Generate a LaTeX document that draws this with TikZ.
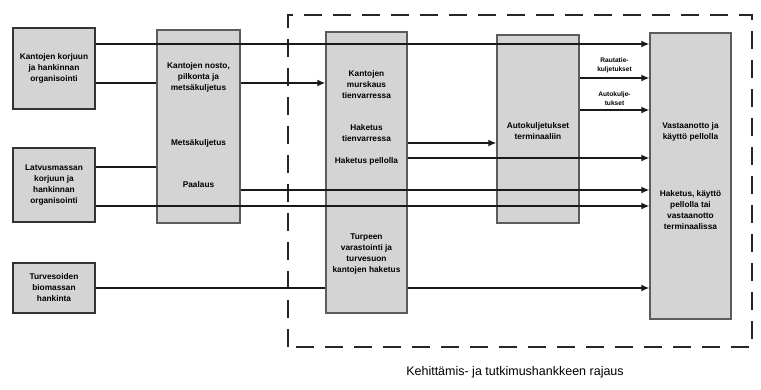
\documentclass[tikz,border=0pt]{standalone}
\usepackage{fontspec}
\setmainfont{Liberation Sans}
\usetikzlibrary{arrows.meta, positioning}
\definecolor{boxgray}{gray}{0.83}
\definecolor{edgegray}{gray}{0.2}
\tikzset{
  orgbox/.style={rectangle, draw=edgegray, line width=1.6pt, fill=boxgray, minimum width=82pt,
    align=center, inner sep=0pt, font=\fontsize{8.3}{11}\selectfont\bfseries},
  colbox/.style={rectangle, draw=edgegray!80, line width=1.2pt, fill=boxgray, minimum width=82pt, inner sep=0pt},
  boxtext/.style={align=center, inner sep=0pt, font=\fontsize{8.3}{11}\selectfont\bfseries},
  linklabel/.style={align=center, inner sep=0pt, black, font=\fontsize{6.6}{9}\selectfont\bfseries},
  link/.style={line width=1.7pt, black!90},
  flow/.style={link, -{Latex[length=8pt,width=7pt]}},
  scopeline/.style={line width=2.4pt, black!85, dash pattern=on 18pt off 11pt},
}

\begin{document}
\begin{tikzpicture}[x=1pt, y=-1pt]
  \useasboundingbox (0,0) rectangle (761,389);

  % project boundary
  \draw[scopeline] (288,347) -- (288,15) -- (752,15) -- (752,347) -- cycle;
  \node[font=\fontsize{12.5}{14}\selectfont] (rajaus) at (515,372) {Kehittämis- ja tutkimushankkeen rajaus};

  % organising boxes on the left
  \node[orgbox, minimum height=81pt] (org1) at (54,68.5) {Kantojen korjuun\\ja hankinnan\\organisointi};
  \node[orgbox, minimum height=74pt] (org2) at (54,185) {Latvusmassan\\korjuun ja\\hankinnan\\organisointi};
  \node[orgbox, minimum height=50pt] (org3) at (54,288) {Turvesoiden\\biomassan\\hankinta};

  % process columns
  \node[colbox, minimum height=193pt, minimum width=83pt] (nosto) at (198.5,126.5) {};
  \node[colbox, minimum height=281pt, minimum width=81pt] (murs) at (366.5,172.5) {};
  \node[colbox, minimum height=188pt, minimum width=82pt] (auto) at (538,129) {};
  \node[colbox, minimum height=286pt, minimum width=81pt] (vast) at (690.5,176) {};

  \node[boxtext] (nostotxt) at (198.5,77) {Kantojen nosto,\\pilkonta ja\\metsäkuljetus};
  \node[boxtext] (metsa) at (198.5,143) {Metsäkuljetus};
  \node[boxtext] (paal) at (198.5,185) {Paalaus};
  \node[boxtext] (murstxt) at (366.5,85) {Kantojen\\murskaus\\tienvarressa};
  \node[boxtext] (hak1) at (366.5,133) {Haketus\\tienvarressa};
  \node[boxtext] (hak2) at (366.5,161) {Haketus pellolla};
  \node[boxtext] (turve) at (366.5,254) {Turpeen\\varastointi ja\\turvesuon\\kantojen haketus};
  \node[boxtext] (autotxt) at (538,131) {Autokuljetukset\\terminaaliin};
  \node[boxtext] (vast1) at (690.5,132) {Vastaanotto ja\\käyttö pellolla};
  \node[boxtext] (vast2) at (690.5,210) {Haketus, käyttö\\pellolla tai\\vastaanotto\\terminaalissa};

  % line levels
  \coordinate (a1) at ([yshift=24.5pt]org1.east);
  \coordinate (a2) at ([yshift=-14.5pt]org1.east);
  \coordinate (b1) at ([yshift=18pt]org2.east);
  \coordinate (b2) at ([yshift=-21pt]org2.east);
  \coordinate (c1) at ([yshift=-63.5pt]nosto.east);
  \coordinate (m1) at ([yshift=29.5pt]murs.east);
  \coordinate (m2) at ([yshift=14.5pt]murs.east);
  \coordinate (t1) at (org3.east);
  \coordinate (r1) at ([yshift=51pt]auto.east);
  \coordinate (r2) at ([yshift=19pt]auto.east);

  % flows
  \draw[flow] (a1) -- (a1 -| vast.west);
  \draw[link] (a2) -- (a2 -| nosto.west);
  \draw[flow] (a2 -| nosto.east) -- (a2 -| murs.west);
  \draw[link] (b1) -- (b1 -| nosto.west);
  \draw[flow] (b2) -- (b2 -| vast.west);
  \draw[flow] (c1) -- (c1 -| vast.west);
  \draw[flow] (m1) -- (m1 -| auto.west);
  \draw[flow] (m2) -- (m2 -| vast.west);
  \draw[link] (t1) -- (t1 -| murs.west);
  \draw[flow] (t1 -| murs.east) -- (t1 -| vast.west);
  \draw[flow] (r1) -- node[linklabel, above=4pt] {Rautatie-\\kuljetukset} (r1 -| vast.west);
  \draw[flow] (r2) -- node[linklabel, above=4pt] {Autokulje-\\tukset} (r2 -| vast.west);
\end{tikzpicture}
\end{document}
